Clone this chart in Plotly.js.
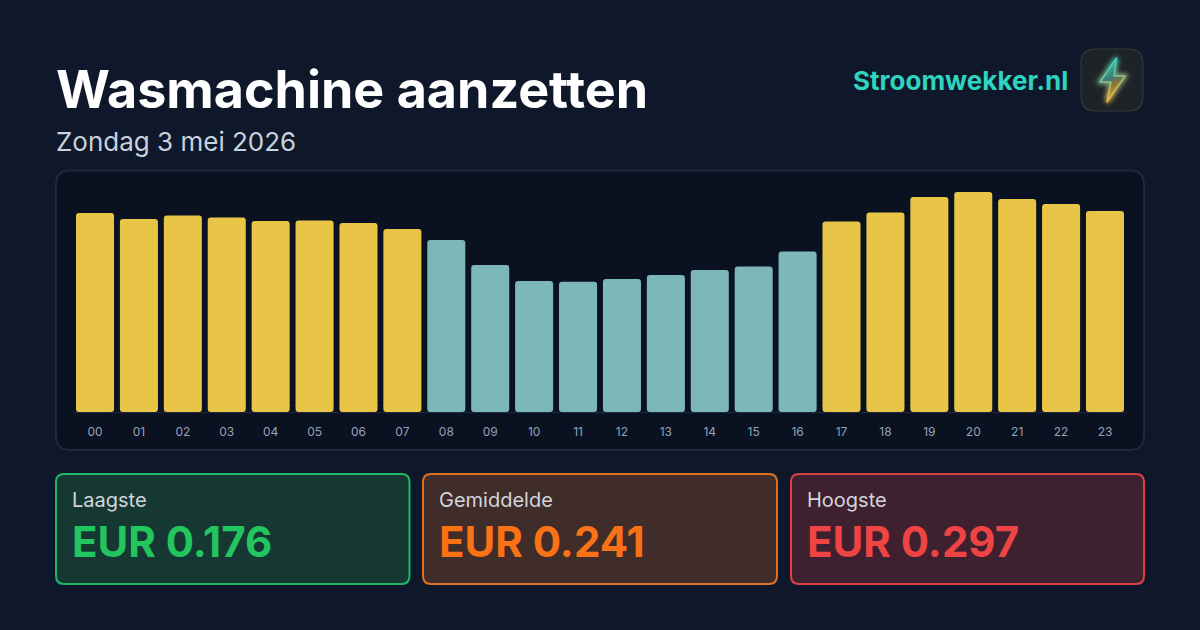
<!DOCTYPE html>
<html><head><meta charset="utf-8">
<script src="https://cdn.plot.ly/plotly-3.0.1.min.js"></script>
<style>html,body{margin:0;padding:0;width:1200px;height:630px;overflow:hidden;background:#0e182a}
#c{width:1200px;height:630px}</style></head>
<body><div id="c"></div>
<script>
const hours=["00","01","02","03","04","05","06","07","08","09","10","11","12","13","14","15","16","17","18","19","20","21","22","23"];
const prices=[0.2687,0.2606,0.2653,0.2626,0.2579,0.2585,0.2552,0.2471,0.2322,0.1985,0.1769,0.176,0.1796,0.185,0.1917,0.1964,0.2167,0.2572,0.2693,0.2903,0.297,0.2876,0.2808,0.2714];
const cheapWindow=[0,0,0,0,0,0,0,0,1,1,1,1,1,1,1,1,1,0,0,0,0,0,0,0];
const YELLOW="#e8c547",TEAL="#7db8b9";
const barColors=cheapWindow.map(f=>f?TEAL:YELLOW);
const foot=0.006;
const W=1200,H=630;
const px=x=>x/W, py=y=>1-y/H;
function rr(x0,y0,x1,y1,r){
  const X=v=>px(v).toFixed(5),Y=v=>py(v).toFixed(5);
  return `M${X(x0+r)},${Y(y0)}L${X(x1-r)},${Y(y0)}Q${X(x1)},${Y(y0)} ${X(x1)},${Y(y0+r)}L${X(x1)},${Y(y1-r)}Q${X(x1)},${Y(y1)} ${X(x1-r)},${Y(y1)}L${X(x0+r)},${Y(y1)}Q${X(x0)},${Y(y1)} ${X(x0)},${Y(y1-r)}L${X(x0)},${Y(y0+r)}Q${X(x0)},${Y(y0)} ${X(x0+r)},${Y(y0)}Z`;
}
function box(x0,y0,x1,y1,r,fill,line,w){return {type:'path',xref:'paper',yref:'paper',path:rr(x0,y0,x1,y1,r),fillcolor:fill,line:{color:line,width:w},layer:'below'};}
function txt(text,x,y,size,color,weight,anchor){return {text,x:px(x),y:py(y),xref:'paper',yref:'paper',xanchor:anchor||'left',yanchor:'middle',showarrow:false,borderpad:0,font:{family:'Inter',size,color,weight:weight||400}};}
const boltPath="M35.5 9 L19 33 L30 33 L26 53 L44 27 L33 27 Z";
const boltSvg=`<svg xmlns="http://www.w3.org/2000/svg" viewBox="0 0 62 62"><defs><linearGradient id="g" x1="0.35" y1="0" x2="0.6" y2="1"><stop offset="0" stop-color="#2dd4bf"/><stop offset="0.45" stop-color="#3f7a70"/><stop offset="0.6" stop-color="#8a7038"/><stop offset="1" stop-color="#fbbf24"/></linearGradient><linearGradient id="s" x1="0.35" y1="0" x2="0.6" y2="1"><stop offset="0" stop-color="#2dd4bf"/><stop offset="0.5" stop-color="#8fc08a"/><stop offset="1" stop-color="#fbb03b"/></linearGradient><filter id="b" x="-60%" y="-60%" width="220%" height="220%"><feGaussianBlur stdDeviation="2.4"/></filter></defs><path d="${boltPath}" fill="none" stroke="url(#s)" stroke-width="4" filter="url(#b)"/><path d="${boltPath}" fill="url(#g)" stroke="url(#s)" stroke-width="1.5" stroke-linejoin="round"/></svg>`;
const shapes=[
 box(56,170.5,1144,450,14,'#0a1120','#1e293b',2),
 box(56,474,409.5,584,8,'#163832','#22b564',2),
 box(423,474,777,584,8,'#402c28','#dd7224',2),
 box(791,474,1144,584,8,'#3f202e','#dc4146',2),
 box(1081,49,1143,111,14,'#1e2327','#34393d',1.2)
];
const annotations=[
 txt('Wasmachine aanzetten',55,90,52,'#ffffff',700),
 txt('Zondag 3 mei 2026',55,142,26,'#c8d1de',400),
 txt('Stroomwekker.nl',1069,81,26,'#2dd4bf',700,'right'),
 txt('Laagste',71,500,20,'#d1d5db',400),
 txt('EUR 0.176',71,541,42,'#22c55e',700),
 txt('Gemiddelde',438,500,20,'#d1d5db',400),
 txt('EUR 0.241',438,541,42,'#f97316',700),
 txt('Hoogste',805.5,500,20,'#d1d5db',400),
 txt('EUR 0.297',805.5,541,42,'#ef4444',700)
];
const data=[
 {type:'bar',x:hours,y:prices.map(v=>v-foot),base:foot,marker:{color:barColors,cornerradius:3,line:{width:0}},hoverinfo:'skip'},
 {type:'bar',x:hours,y:hours.map(()=>-2*foot),base:2*foot,marker:{color:barColors,cornerradius:3,line:{width:0}},hoverinfo:'skip'}
];
const layout={
 width:W,height:H,margin:{l:0,r:0,t:0,b:0},paper_bgcolor:'rgba(0,0,0,0)',plot_bgcolor:'rgba(0,0,0,0)',
 showlegend:false,barmode:'overlay',bargap:0.134,
 xaxis:{domain:[73.05/W,1126.95/W],type:'category',layer:'below traces',tickfont:{family:'Inter',size:12,color:'#94a3b8'},ticks:'outside',ticklen:9,tickcolor:'rgba(0,0,0,0)',showline:true,linecolor:'#1e293b',linewidth:1,showgrid:false,zeroline:false,fixedrange:true},
 yaxis:{domain:[py(412),py(172)],range:[0,0.297*240/220],visible:false,fixedrange:true},
 shapes,annotations,
 images:[{source:'data:image/svg+xml;utf8,'+encodeURIComponent(boltSvg),xref:'paper',yref:'paper',x:px(1081),y:py(49),sizex:62/W,sizey:62/H,xanchor:'left',yanchor:'top',layer:'above'}]
};
Plotly.newPlot('c',data,layout,{displayModeBar:false,staticPlot:true});
</script></body></html>
